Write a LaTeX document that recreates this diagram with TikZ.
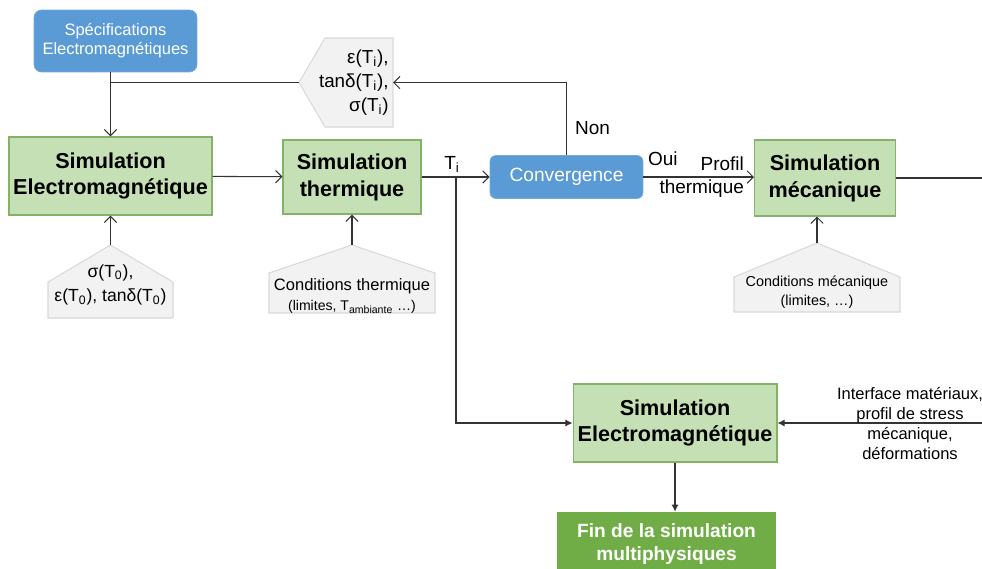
\documentclass[tikz,border=0pt]{standalone}
\usepackage{fontspec}
\setmainfont{Liberation Sans}
\usetikzlibrary{arrows.meta}
\definecolor{bleu}{HTML}{5B9BD5}
\definecolor{vertF}{HTML}{C5E0B4}
\definecolor{vertD}{HTML}{82B366}
\definecolor{vertFin}{HTML}{70AD47}
\definecolor{grisF}{HTML}{F2F2F2}
\definecolor{grisD}{HTML}{D9D9D9}
\definecolor{trait}{HTML}{333333}
\begin{document}
\begin{tikzpicture}[x=0.02cm, y=-0.02cm]
\tikzset{simu/.style={draw=vertD, fill=vertF, line width=0.6pt, align=center, inner sep=1pt,
    font=\fontsize{12.3}{15.3}\bfseries\selectfont},
  bleubox/.style={draw=bleu!85!white, fill=bleu, rounded corners=0.15cm, align=center, text=white},
  fin/.style={fill=vertFin, text=white, align=center, font=\fontsize{10.9}{13.6}\bfseries\selectfont},
  condforme/.style={draw=grisD, fill=grisF, line width=0.6pt},
  condtexte/.style={align=center, inner sep=0pt},
  etiq/.style={inner sep=1pt, font=\fontsize{10.8}{13}\selectfont},
  fleche/.style={draw=trait, line width=0.6pt, -{Straight Barb[length=3.5pt,width=7pt]}},
  flechep/.style={draw=trait, line width=0.6pt, -{Latex[length=4pt,width=4pt]}},
  ligne/.style={draw=trait, line width=0.6pt}}
\useasboundingbox (0,0) rectangle (982,568);
\clip (0,0) rectangle (982,568);
% blocs
\node[bleubox, minimum width=3.26cm, minimum height=1.24cm, font=\fontsize{9.4}{10.8}\selectfont] (spec) at (115.5,41) {Spécifications\\Electromagnétiques};
\node[simu, minimum width=4.06cm, minimum height=1.56cm] (em1) at (110.5,176) {Simulation\\Electromagnétique};
\node[simu, minimum width=2.76cm, minimum height=1.48cm] (therm) at (352,177) {Simulation\\thermique};
\node[bleubox, rounded corners=0.12cm, minimum width=3.06cm, minimum height=0.86cm, font=\fontsize{10.9}{13}\selectfont] (conv) at (566.5,177) {Convergence};
\node[simu, minimum width=2.82cm, minimum height=1.52cm] (meca) at (825,178) {Simulation\\mécanique};
\node[simu, minimum width=4.08cm, minimum height=1.56cm] (em2) at (675,423) {Simulation\\Electromagnétique};
\node[fin, minimum width=4.38cm, minimum height=1.28cm] (fin) at (666.5,544) {Fin de la simulation\\multiphysiques};
% entrees
\filldraw[condforme] (325,38) -- (393,38) -- (393,127) -- (325,127) -- (299,82.5) -- cycle;
\coordinate (fb) at (299,82.5);
\coordinate (fbin) at (393,82.5);
\node[condtexte, align=right, anchor=east, font=\fontsize{10.7}{13.6}\selectfont] (fbtxt) at (389,82.5) {ε(T\textsubscript{i}),\\tanδ(T\textsubscript{i}),\\σ(T\textsubscript{i})};
\filldraw[condforme] (48,282) -- (110.5,245) -- (173,282) -- (173,318) -- (48,318) -- cycle;
\coordinate (condem) at (110.5,245);
\node[condtexte, font=\fontsize{10}{14}\selectfont] (condemtxt) at (110.5,285) {σ(T\textsubscript{0}),\\ε(T\textsubscript{0}), tanδ(T\textsubscript{0})};
\filldraw[condforme] (269,273) -- (352,245) -- (435,273) -- (435,313) -- (269,313) -- cycle;
\coordinate (condth) at (352,245);
\node[condtexte, font=\fontsize{9.4}{11.3}\selectfont] (condthtxt) at (352,296) {Conditions thermique\\{\fontsize{8}{9}\selectfont (limites, T\textsubscript{ambiante} …)}};
\filldraw[condforme] (734,277) -- (817,243) -- (900,277) -- (900,312) -- (734,312) -- cycle;
\coordinate (condme) at (817,243);
\node[condtexte, font=\fontsize{8.2}{11}\selectfont] (condmetxt) at (817,292) {Conditions mécanique\\(limites, …)};
% liaisons
\draw[fleche] (spec.south -| em1.north) -- (em1.north);
\draw[ligne] (fb) -- (fb -| em1.north);
\draw[fleche] (conv.north) |- (fbin);
\draw[fleche] (em1) -- (therm);
\draw[fleche] (therm) -- (conv);
\coordinate (split) at (456,177);
\draw[flechep] (split) |- (em2.west);
\draw[fleche] (conv) -- (meca.west |- conv);
\coordinate (mecaout) at (990,178);
\draw[ligne] (meca.east) -- (mecaout);
\coordinate (retour) at (990,423);
\draw[flechep] (retour) -- (em2.east);
\draw[flechep] (em2.south) -- (em2.south |- fin.north);
\draw[fleche] (condem) -- (em1.south);
\draw[fleche] (condth) -- (therm.south);
\draw[fleche] (condme) -- (condme |- meca.south);
% etiquettes
\node[etiq] (ti) at (452,164) {T\textsubscript{i}};
\node[etiq, anchor=west] (non) at (573,128) {Non};
\node[etiq, anchor=west] (oui) at (646,159) {Oui};
\node[etiq, anchor=east, align=right, font=\fontsize{10.8}{13}\selectfont] (profil) at (746,177.5) {Profil\\thermique};
\node[etiq, align=center, font=\fontsize{9.4}{11.3}\selectfont] (interf) at (910,423.5) {Interface matériaux,\\profil de stress\\mécanique,\\déformations};
\end{tikzpicture}
\end{document}
